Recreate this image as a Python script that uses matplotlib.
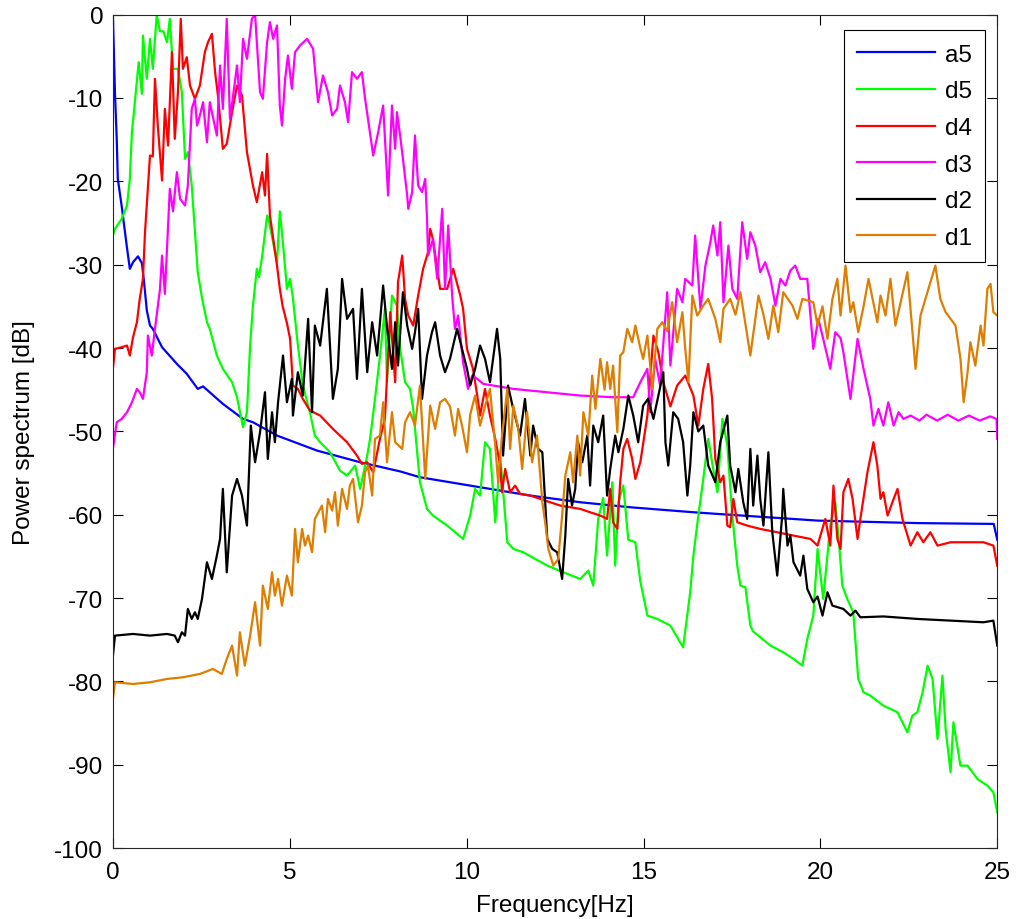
import numpy as np
import matplotlib
matplotlib.use('Agg')
import matplotlib.pyplot as plt

plt.rcParams['font.family'] = ['Liberation Sans', 'DejaVu Sans']
plt.rcParams['axes.unicode_minus'] = False

# (frequency Hz, power dB)
a5 = [(0, 0), (0.02, -3), (0.06, -9.5), (0.11, -15), (0.14, -19.7), (0.25, -23), (0.40, -28), (0.48, -30.5),
      (0.57, -29.7), (0.71, -29), (0.82, -29.8), (0.88, -32), (0.96, -35.5), (1.05, -37.3), (1.13, -37.7),
      (1.39, -39.9), (1.81, -41.9), (2.09, -43.1), (2.40, -44.9), (2.55, -44.6), (3.11, -46.7), (3.68, -48.5),
      (3.96, -48.9), (4.64, -50.5), (5.77, -52.3), (6.99, -53.7), (8.12, -54.8), (8.68, -55.5), (10.38, -56.7),
      (11.8, -57.7), (13.21, -58.5), (14.62, -59.1), (16.41, -59.7), (17.09, -59.9), (19.92, -60.7),
      (22.74, -61.0), (24.9, -61.1), (25, -63)]

d5 = [(0, -26.5), (0.06, -25.7), (0.25, -24.5), (0.40, -22.9), (0.48, -19.7), (0.54, -14), (0.57, -12.8),
      (0.68, -8), (0.73, -5.7), (0.82, -9.5), (0.85, -2.5), (0.96, -7.7), (1.05, -2.9), (1.13, -6.5), (1.24, 0),
      (1.33, -2), (1.43, -2), (1.53, -3.3), (1.61, -0.5), (1.70, -6.5), (1.84, -6.5), (1.95, -9.3), (2.04, -17.3),
      (2.12, -16.5), (2.23, -20.5), (2.32, -26), (2.40, -30.9), (2.52, -34), (2.66, -36.9), (2.74, -37.7),
      (2.94, -40.9), (3.11, -42.5), (3.37, -44.1), (3.51, -45.9), (3.68, -49.5), (3.79, -47.7), (3.88, -39.7),
      (3.96, -34.9), (4.07, -30.5), (4.13, -31.5), (4.22, -29), (4.36, -24.1), (4.40, -24.5), (4.47, -26),
      (4.64, -29.7), (4.72, -23.6), (4.80, -27), (4.92, -32.9), (5.01, -31.7), (5.09, -34), (5.21, -38.9),
      (5.37, -44.5), (5.57, -47.7), (5.71, -50.5), (5.86, -51.3), (6.14, -52.5), (6.42, -54.7), (6.62, -55.3),
      (6.85, -54.1), (6.99, -56.9), (7.19, -52.9), (7.27, -50.9), (7.41, -46.1), (7.55, -41), (7.69, -35.3),
      (7.75, -44), (7.89, -33.7), (8.03, -34.9), (8.12, -40), (8.26, -44.1), (8.40, -44.9), (8.49, -47.3),
      (8.68, -56.1), (8.88, -59.3), (9.05, -60.1), (9.45, -61.3), (9.90, -62.9), (10.10, -60.1), (10.24, -56.9),
      (10.38, -57.7), (10.52, -51.3), (10.66, -52.1), (10.81, -60.9), (10.95, -52.9), (11.15, -63.3),
      (11.32, -64.1), (11.60, -64.5), (12.28, -66.1), (12.73, -66.9), (13.21, -67.7), (13.44, -66.7),
      (13.58, -68.5), (13.72, -60.5), (13.86, -58), (13.97, -64.9), (14.12, -56.1), (14.20, -66.1),
      (14.29, -58.5), (14.43, -56.5), (14.57, -63), (14.77, -63.3), (14.91, -68), (15.11, -72.1), (15.39, -72.5),
      (15.76, -73.3), (16.12, -75.9), (16.32, -69.3), (16.41, -64.9), (16.55, -60.1), (16.69, -55.7),
      (16.83, -50.9), (16.97, -54.5), (17.09, -57.3), (17.23, -48.5), (17.37, -51.7), (17.51, -60.1),
      (17.65, -66.1), (17.74, -68.5), (17.88, -68.7), (18.02, -73.3), (18.10, -74), (18.59, -75.7),
      (18.95, -76.5), (19.24, -77.3), (19.49, -78.1), (19.63, -74.9), (19.80, -72.1), (19.92, -64.1),
      (20.08, -70.1), (20.28, -61.3), (20.42, -58.5), (20.52, -63), (20.62, -68.5), (20.76, -70.1),
      (20.93, -71.7), (21.07, -79.7), (21.22, -81.3), (21.41, -81.7), (21.78, -82.9), (22.18, -83.7),
      (22.46, -86.1), (22.60, -84.1), (22.74, -83.7), (22.89, -81.3), (23.03, -78.1), (23.17, -79.7),
      (23.31, -86.9), (23.45, -79.3), (23.54, -85.7), (23.68, -90.9), (23.76, -84.9), (23.96, -90.1),
      (24.16, -90.1), (24.44, -91.7), (24.72, -92.5), (24.89, -93.3), (25.0, -95.7)]

d4 = [(0, -42.5), (0.06, -40.1), (0.25, -39.9), (0.40, -39.7), (0.48, -40.9), (0.57, -38.7), (0.68, -36.9),
      (0.76, -34.1), (0.85, -31.7), (0.91, -26), (1.05, -16.9), (1.13, -17), (1.19, -7.7), (1.27, -13.3),
      (1.39, -19.9), (1.47, -11.3), (1.56, -15.7), (1.67, -4.5), (1.75, -14.9), (1.84, -9.3), (1.92, -0.5),
      (1.98, -6.5), (2.09, -5.1), (2.18, -8.5), (2.32, -10.1), (2.46, -8.5), (2.60, -4.5), (2.69, -3.3),
      (2.80, -2.3), (2.89, -6.9), (2.97, -9.7), (3.11, -16.1), (3.22, -15.5), (3.37, -11.7), (3.51, -8.5),
      (3.65, -9.7), (3.79, -16.5), (3.96, -20.5), (4.07, -22.5), (4.22, -18.9), (4.30, -21.7), (4.36, -16.7),
      (4.44, -24.1), (4.64, -30.1), (4.72, -32.9), (4.80, -35), (4.92, -37), (5.01, -38.9), (5.09, -44.5),
      (5.23, -44.9), (5.37, -46.1), (5.57, -47.5), (5.86, -48.1), (6.22, -49.7), (6.62, -51.3), (6.90, -52.9),
      (7.04, -53.9), (7.19, -53.7), (7.36, -54.9), (7.55, -50.9), (7.69, -48.5), (7.84, -35.7), (7.98, -44.1),
      (8.06, -32.1), (8.18, -28.9), (8.26, -34.1), (8.35, -36.1), (8.49, -37.3), (8.63, -33.7), (8.77, -30.5),
      (8.91, -28.5), (8.97, -25.7), (9.05, -27), (9.25, -32.9), (9.45, -32.9), (9.62, -30.5), (9.82, -33.7),
      (9.90, -35.3), (10.01, -40.1), (10.18, -42.5), (10.30, -45.7), (10.38, -48.1), (10.52, -44.9),
      (10.66, -48.1), (10.81, -50.9), (10.95, -54.1), (11.00, -57.3), (11.09, -54.5), (11.23, -57.3),
      (11.37, -56.5), (11.51, -57.5), (11.80, -57.7), (12.08, -58.1), (12.36, -58.5), (12.65, -58.9),
      (12.93, -59.1), (13.21, -59.3), (13.49, -59.7), (13.78, -60.1), (13.97, -60.5), (14.06, -56.9),
      (14.14, -60.9), (14.26, -61.7), (14.34, -56.1), (14.43, -52.1), (14.54, -50.9), (14.68, -53.3),
      (14.77, -55.7), (14.91, -53.7), (15.11, -48.1), (15.28, -38.5), (15.42, -40.5), (15.56, -44.1),
      (15.76, -47), (15.95, -44.5), (16.18, -43.3), (16.41, -45.7), (16.55, -49.3), (16.69, -44.9),
      (16.83, -41.9), (16.94, -46.1), (17.03, -53.3), (17.17, -56.1), (17.26, -55.3), (17.37, -61.3),
      (17.45, -61.5), (17.54, -58.1), (17.65, -60.9), (17.93, -61.3), (18.30, -61.7), (18.78, -62.1),
      (19.24, -62.5), (19.72, -62.9), (19.92, -63.7), (20.00, -62.5), (20.14, -60.5), (20.28, -63.7),
      (20.37, -56.5), (20.48, -62.9), (20.57, -64.1), (20.65, -57.3), (20.79, -55.7), (20.91, -58.1),
      (21.05, -62.9), (21.13, -60.5), (21.33, -54.9), (21.50, -51.3), (21.61, -54.1), (21.70, -58.1),
      (21.78, -57.3), (21.90, -60.1), (22.07, -58.1), (22.18, -56.9), (22.32, -60.5), (22.55, -63.7),
      (22.74, -62.1), (22.91, -63.3), (23.11, -62.1), (23.31, -63.7), (23.68, -63.3), (24.16, -63.3),
      (24.61, -63.3), (24.89, -63.7), (25.0, -66.1)]

d3 = [(0, -52.1), (0.11, -48.9), (0.25, -48.5), (0.40, -47.7), (0.54, -46.5), (0.68, -44.9), (0.76, -45.3),
      (0.85, -46.1), (0.96, -42.9), (0.99, -38.5), (1.10, -40.9), (1.19, -37.7), (1.33, -33), (1.39, -28.9),
      (1.47, -33.5), (1.61, -20.9), (1.70, -23.6), (1.81, -18.9), (1.90, -22.1), (2.04, -22.9), (2.12, -20.5),
      (2.23, -11.3), (2.32, -10.1), (2.38, -13.3), (2.46, -12.1), (2.55, -10.5), (2.66, -15.3), (2.74, -10.5),
      (2.94, -14.5), (3.03, -6.1), (3.11, -11.3), (3.22, -0.5), (3.31, -12.5), (3.39, -10), (3.51, -6.1),
      (3.59, -10.5), (3.68, -2.9), (3.79, -5.3), (3.93, -0.5), (4.02, 0), (4.16, -9.3), (4.24, -10.1),
      (4.36, -3.3), (4.44, -0.9), (4.53, -2.9), (4.64, -1.3), (4.72, -10.9), (4.78, -13.3), (4.87, -7.7),
      (4.95, -4.9), (5.06, -8.9), (5.15, -4.5), (5.29, -3.7), (5.49, -2.9), (5.66, -4.1), (5.80, -10.5),
      (5.94, -7.3), (6.08, -9.3), (6.20, -12.1), (6.34, -11.3), (6.42, -8.5), (6.56, -10.5), (6.65, -12.9),
      (6.76, -6.9), (6.90, -7.7), (7.04, -6.9), (7.13, -10.1), (7.36, -16.9), (7.50, -14.1), (7.64, -10.9),
      (7.78, -21.7), (7.89, -10.9), (7.98, -16.1), (8.03, -11.7), (8.12, -14.5), (8.20, -17.3), (8.32, -21.7),
      (8.35, -23.3), (8.46, -21.3), (8.54, -14.5), (8.63, -20.5), (8.74, -21.3), (8.83, -19.7), (8.88, -24.5),
      (8.91, -28.9), (9.05, -26.9), (9.17, -31.7), (9.31, -23.3), (9.39, -32.9), (9.48, -25.3), (9.59, -33.7),
      (9.67, -37.7), (9.76, -36.1), (9.90, -41.7), (10.04, -44.9), (10.16, -43.3), (10.30, -43.7),
      (10.47, -44.3), (11.32, -44.9), (12.28, -45.3), (13.21, -45.7), (14.14, -45.9), (14.71, -45.9),
      (14.91, -44.1), (15.11, -42.5), (15.19, -47.7), (15.33, -41.3), (15.47, -44.5), (15.67, -33.3),
      (15.76, -42.1), (15.95, -32.9), (16.10, -34.5), (16.18, -31.7), (16.38, -32.5), (16.46, -26.5),
      (16.61, -35.3), (16.75, -30.1), (16.89, -27.3), (16.97, -25.3), (17.09, -28.9), (17.17, -24.9),
      (17.26, -34.5), (17.40, -27.7), (17.51, -32.9), (17.65, -34.1), (17.79, -24.9), (17.93, -29.3),
      (18.02, -26.1), (18.16, -27.7), (18.30, -30.9), (18.44, -29.7), (18.59, -31.7), (18.73, -34.9),
      (18.87, -31.7), (19.01, -32.5), (19.15, -30.7), (19.29, -30.1), (19.43, -31.7), (19.63, -31.7),
      (19.80, -40.1), (19.94, -36.5), (20.08, -38.9), (20.28, -42.5), (20.42, -38.1), (20.57, -38.8),
      (20.65, -40.5), (20.85, -46.1), (21.05, -38.9), (21.22, -42.5), (21.41, -46.1), (21.50, -49.3),
      (21.64, -47.3), (21.78, -49.3), (21.92, -46.5), (22.07, -49.3), (22.21, -47.7), (22.35, -48.5),
      (22.55, -48.1), (22.8, -48.7), (23.0, -48.0), (23.3, -48.7), (23.6, -48.0), (23.9, -48.7), (24.2, -48.1),
      (24.5, -48.7), (24.8, -48.2), (24.98, -48.5), (25, -50.9)]

d2 = [(0, -77), (0.06, -74.5), (0.57, -74.3), (1.05, -74.5), (1.53, -74.3), (1.75, -74.5), (1.84, -75.3),
      (1.95, -74.1), (2.04, -74.5), (2.12, -71.3), (2.23, -72.5), (2.32, -71.7), (2.40, -72.5), (2.52, -70.1),
      (2.66, -65.7), (2.80, -67.7), (2.94, -64.9), (3.03, -62.9), (3.11, -56.9), (3.22, -66.9), (3.37, -57.7),
      (3.51, -55.7), (3.65, -57.7), (3.79, -61.3), (3.90, -49.3), (4.02, -53.7), (4.16, -50.1), (4.30, -45.3),
      (4.38, -53.3), (4.50, -47.7), (4.58, -51.3), (4.67, -46.5), (4.81, -40.9), (4.92, -46.5), (5.06, -43.7),
      (5.09, -48.1), (5.23, -42.9), (5.37, -45.7), (5.52, -36.5), (5.63, -47.7), (5.71, -37.3), (5.86, -39.7),
      (6.05, -32.9), (6.22, -46.1), (6.36, -42.5), (6.48, -31.7), (6.62, -36.5), (6.79, -35.3), (6.90, -43.7),
      (7.04, -32.9), (7.19, -42.9), (7.33, -36.9), (7.47, -40.9), (7.64, -32.5), (7.75, -37.5), (7.89, -42.5),
      (7.98, -36.9), (8.06, -42.1), (8.20, -33.3), (8.32, -37.3), (8.46, -40.1), (8.54, -38.1), (8.63, -35.3),
      (8.74, -46.1), (8.88, -40.9), (9.02, -38.1), (9.11, -36.9), (9.25, -40.9), (9.39, -42.9), (9.53, -41.3),
      (9.73, -37.7), (9.87, -40.1), (10.01, -42.5), (10.10, -44.5), (10.24, -42.5), (10.38, -39.7),
      (10.52, -41.3), (10.66, -44.1), (10.86, -37.7), (10.95, -41.3), (11.03, -52.9), (11.17, -44.5),
      (11.30, -47), (11.51, -50.5), (11.65, -46.1), (11.80, -52.9), (11.88, -49.3), (12.02, -52.1),
      (12.14, -52.5), (12.28, -62.9), (12.42, -64.1), (12.56, -64.5), (12.70, -67.7), (12.79, -62.5),
      (12.87, -55.7), (12.98, -58.9), (13.07, -56.9), (13.15, -51.3), (13.27, -53.7), (13.41, -50.5),
      (13.49, -56.5), (13.58, -49.3), (13.72, -51.3), (13.86, -48.1), (13.97, -57.7), (14.06, -54.5),
      (14.20, -50.5), (14.29, -52.5), (14.43, -49.7), (14.57, -45.7), (14.71, -48.1), (14.85, -51.3),
      (14.99, -46.9), (15.13, -46.1), (15.28, -48.5), (15.56, -42.9), (15.62, -51.3), (15.70, -54.1),
      (15.84, -47.7), (15.98, -48.5), (16.12, -51.3), (16.24, -57.7), (16.32, -54.1), (16.41, -47.7),
      (16.55, -50), (16.69, -49.3), (16.83, -54.1), (17.03, -56.1), (17.17, -51.3), (17.37, -48.1),
      (17.45, -54.1), (17.60, -57.3), (17.68, -54.5), (17.82, -58.5), (17.93, -60.5), (18.02, -52.1),
      (18.10, -58.9), (18.22, -52.9), (18.30, -58.1), (18.39, -61.3), (18.53, -52.5), (18.64, -62.1),
      (18.78, -67.3), (18.92, -60.1), (18.95, -56.9), (19.07, -63.7), (19.15, -62.5), (19.24, -65.7),
      (19.43, -67.3), (19.52, -64.9), (19.63, -68.9), (19.80, -70.5), (19.92, -69.8), (20.06, -72.1),
      (20.20, -69.3), (20.34, -70.9), (20.65, -71.3), (20.85, -72.1), (20.99, -71.5), (21.13, -72.3),
      (21.78, -72.2), (22.74, -72.5), (23.68, -72.7), (24.61, -72.9), (24.89, -72.7), (25, -75.7)]

d1 = [(0, -82.1), (0.06, -80.1), (0.57, -80.3), (1.05, -80.1), (1.53, -79.7), (1.98, -79.5), (2.46, -79.1),
      (2.83, -78.5), (3.08, -79.1), (3.22, -77.3), (3.37, -75.7), (3.51, -79.3), (3.59, -74.1), (3.73, -78.1),
      (3.88, -74.5), (4.02, -70.5), (4.16, -75.7), (4.24, -68.5), (4.38, -71.3), (4.50, -66.9), (4.58, -69.7),
      (4.67, -67.7), (4.78, -70.9), (4.92, -67.3), (5.06, -69.7), (5.15, -61.7), (5.23, -65.7), (5.35, -61.7),
      (5.43, -63.7), (5.52, -62.5), (5.63, -64.5), (5.71, -60.5), (5.91, -58.9), (6.00, -62.1), (6.08, -58.1),
      (6.20, -59.5), (6.28, -57.3), (6.36, -61.3), (6.48, -56.9), (6.62, -59.3), (6.70, -56.5), (6.79, -55.7),
      (6.93, -60.9), (7.04, -58.9), (7.13, -54.9), (7.21, -54.1), (7.33, -57.7), (7.41, -50.9), (7.55, -50.5),
      (7.64, -46.5), (7.75, -53.7), (7.89, -47.7), (7.98, -51.3), (8.18, -52.1), (8.26, -48.9), (8.40, -47.7),
      (8.54, -49.3), (8.68, -44.5), (8.83, -55.7), (8.97, -46.9), (9.11, -49.7), (9.25, -46.5), (9.39, -46.1),
      (9.53, -47), (9.67, -50.5), (9.76, -47.3), (9.87, -49.3), (10.01, -52.5), (10.10, -48), (10.24, -45.7),
      (10.38, -49.3), (10.52, -47), (10.66, -44.9), (10.81, -51.7), (10.89, -56.1), (11.00, -50.5),
      (11.15, -44.9), (11.23, -52.1), (11.32, -46.9), (11.46, -49.7), (11.57, -54.5), (11.71, -47.7),
      (11.85, -53.7), (11.99, -50.5), (12.14, -58.5), (12.22, -60.9), (12.31, -64.1), (12.45, -66.1),
      (12.59, -65.3), (12.70, -60.1), (12.79, -55.3), (12.93, -52.5), (13.01, -56.1), (13.13, -50.5),
      (13.21, -55.3), (13.30, -47.7), (13.44, -50.5), (13.55, -43.3), (13.64, -47.3), (13.78, -41.3),
      (13.90, -45), (13.97, -41.7), (14.06, -44.9), (14.14, -42.1), (14.26, -50.1), (14.34, -40.9),
      (14.43, -40.5), (14.54, -37.7), (14.68, -39.3), (14.77, -37.3), (14.91, -40), (14.99, -41.3),
      (15.11, -38.5), (15.25, -44.9), (15.39, -37.7), (15.53, -36.9), (15.67, -38), (15.81, -34.5),
      (15.95, -39.3), (16.10, -35.7), (16.18, -40.1), (16.27, -44.1), (16.38, -33.7), (16.52, -36.1),
      (16.69, -34.9), (16.83, -34.1), (17.03, -36.5), (17.17, -39.3), (17.26, -35.3), (17.45, -34.1),
      (17.60, -36), (17.74, -33.3), (18.02, -40.9), (18.16, -36.5), (18.25, -33.7), (18.39, -36),
      (18.53, -38.9), (18.67, -34.9), (18.81, -38.1), (18.95, -33.3), (19.21, -34.9), (19.35, -36.5),
      (19.49, -34.1), (19.80, -34.5), (19.92, -37.3), (20.06, -35), (20.20, -38.9), (20.34, -34.1),
      (20.48, -31.7), (20.57, -36.1), (20.71, -30.1), (20.85, -35.7), (20.93, -34.5), (21.07, -38.1),
      (21.22, -35), (21.36, -31.7), (21.61, -36.9), (21.70, -33.7), (21.84, -36.1), (21.98, -31.7),
      (22.12, -37.3), (22.46, -30.9), (22.69, -42.5), (22.83, -36.1), (22.97, -34.1), (23.25, -30.1),
      (23.39, -34.1), (23.54, -35.7), (23.82, -37.3), (23.96, -41.3), (24.05, -46.5), (24.16, -42.9),
      (24.24, -39.3), (24.38, -42.1), (24.53, -37.3), (24.61, -39.7), (24.72, -32.9), (24.81, -32.3),
      (24.89, -35.7), (25, -36.1)]

series = [('a5', a5, '#0000ff'), ('d5', d5, '#00ff00'), ('d4', d4, '#ff0000'),
          ('d3', d3, '#ff00ff'), ('d2', d2, '#000000'), ('d1', d1, '#de7d00')]

fig = plt.figure(figsize=(10.26, 9.2), dpi=100)
ax = fig.add_axes([0.110, 0.077, 0.862, 0.906])

for name, pts, col in series:
    f, p = np.array(pts).T
    ax.plot(f, p, color=col, lw=1.6, label=name)

ax.set_xlim(0, 25)
ax.set_ylim(-100, 0)
ax.set_xticks(np.arange(0, 26, 5))
ax.set_yticks(np.arange(-100, 1, 10))
ax.tick_params(direction='in', length=7, width=0.8, top=True, right=True, labelsize=17.5)
ax.tick_params(axis='x', pad=9)
ax.tick_params(axis='y', pad=7)
for s in ax.spines.values():
    s.set_linewidth(0.8)
    s.set_color('#262626')
ax.set_xlabel('Frequency[Hz]', fontsize=17.5, labelpad=8)
ax.set_ylabel('Power spectrum [dB]', fontsize=17.5, labelpad=14)

leg = ax.legend(loc='upper right', bbox_to_anchor=(0.986, 0.981), fontsize=17.5, handlelength=3.2,
                labelspacing=0.6, fancybox=False, framealpha=1, edgecolor='black', borderpad=0.55,
                handletextpad=0.4, borderaxespad=0)
leg.get_frame().set_linewidth(0.8)

fig.savefig('out.png', dpi=100)
